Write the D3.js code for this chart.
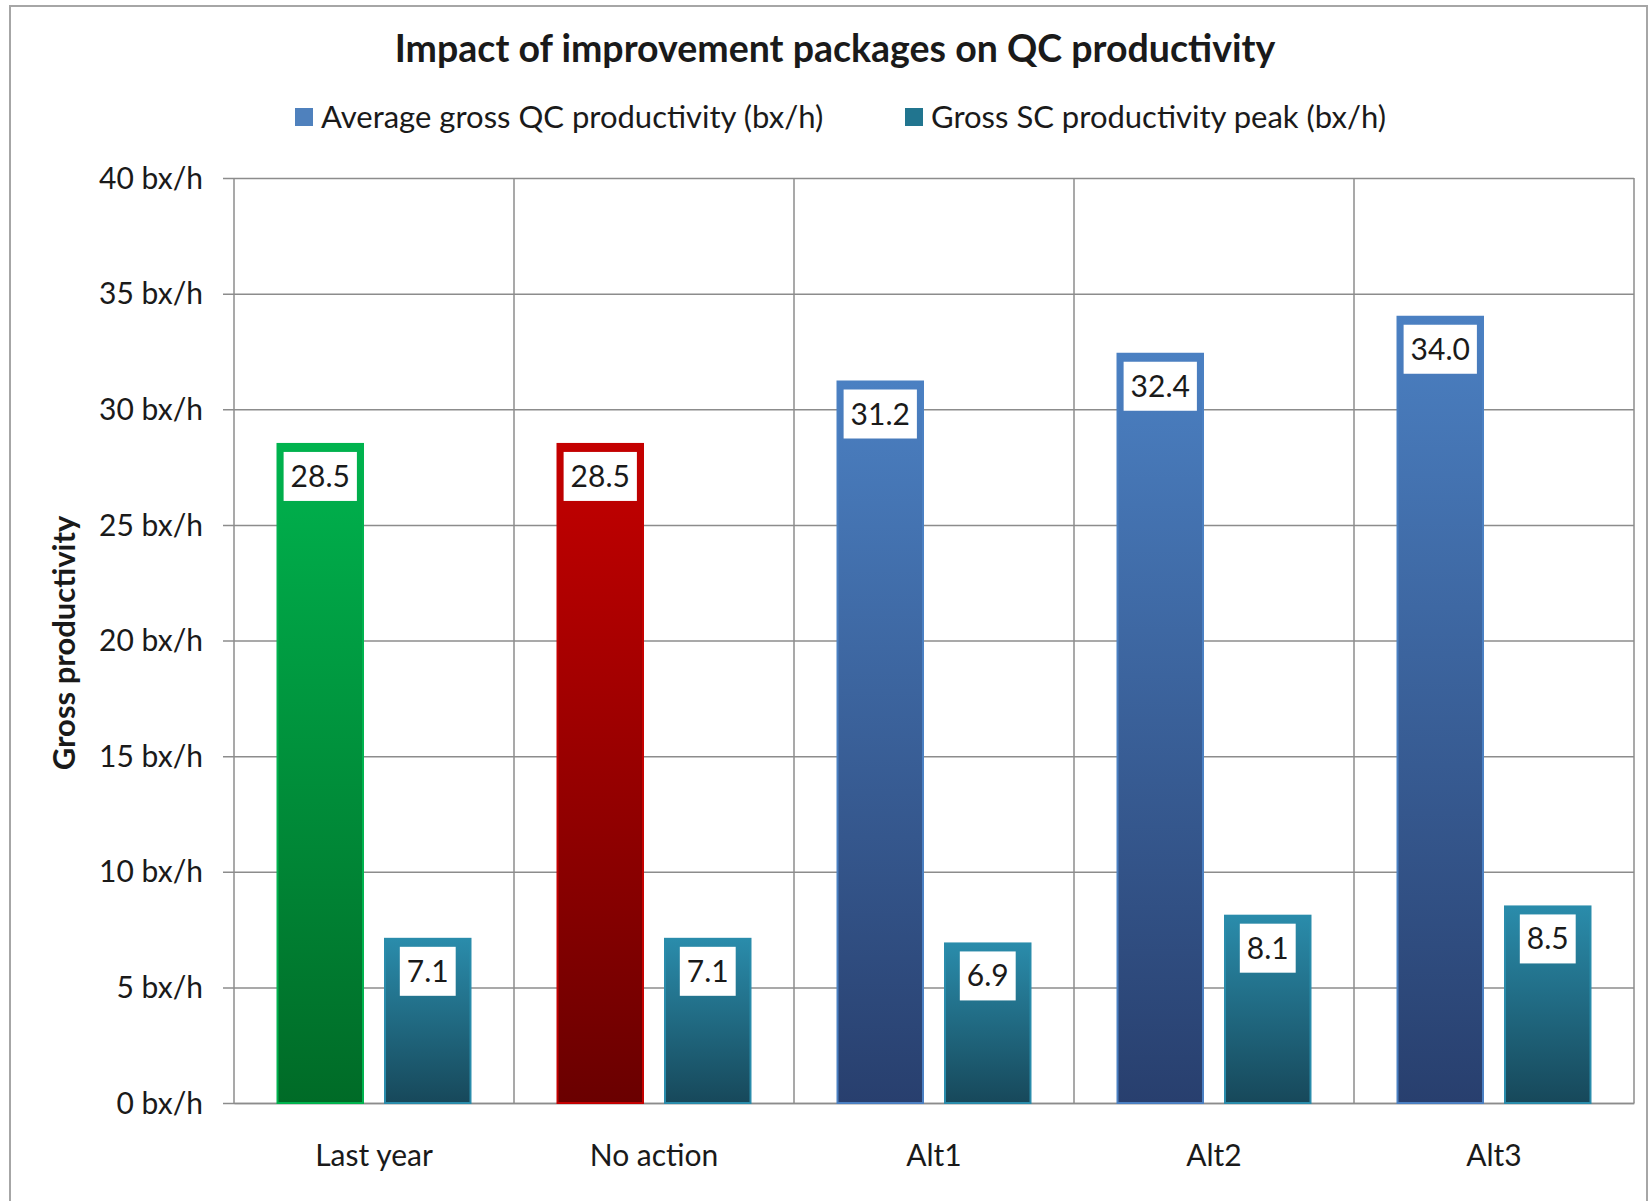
<!DOCTYPE html>
<html>
<head>
<meta charset="utf-8">
<script src="https://cdn.jsdelivr.net/npm/d3@7"></script>
<style>
  html, body { margin: 0; padding: 0; background: #fff; }
  svg { display: block; }
  text { font-family: Lato, "Open Sans", sans-serif; fill: #1a1a1a; }
</style>
</head>
<body>
<svg id="chart" width="1650" height="1201"></svg>
<script>
// Chart data
const categories = ["Last year", "No action", "Alt1", "Alt2", "Alt3"];
const avgQC = [28.5, 28.5, 31.2, 32.4, 34.0];
const scPeak = [7.1, 7.1, 6.9, 8.1, 8.5];
const yTicks = [0, 5, 10, 15, 20, 25, 30, 35, 40];
const seriesNames = ["Average gross QC productivity (bx/h)", "Gross SC productivity peak (bx/h)"];
const titleText = "Impact of improvement packages on QC productivity";
const yAxisTitle = "Gross productivity";

// Per-category gradient palettes for the QC series; SC series uses teal
const qcPalette = ["green", "red", "blue", "blue", "blue"];
const gradients = {
  green: ["#00b34e", "#006b27"],
  red:   ["#c40000", "#6a0000"],
  blue:  ["#4b80c2", "#283f6e"],
  teal:  ["#2a8cab", "#17485a"]
};

const svg = d3.select("#chart");
const plot = { left: 234, right: 1634, top: 178, bottom: 1103 };

// Outer chart frame
svg.append("rect")
  .attr("x", 10).attr("y", 6)
  .attr("width", 1637).attr("height", 1200)
  .attr("fill", "#fff").attr("stroke", "#a6a6a6").attr("stroke-width", 2);

// Gradient definitions
const defs = svg.append("defs");
Object.entries(gradients).forEach(([key, [c0, c1]]) => {
  const g = defs.append("linearGradient")
    .attr("id", "grad-" + key)
    .attr("x1", 0).attr("y1", 0).attr("x2", 0).attr("y2", 1);
  g.append("stop").attr("offset", "0%").attr("stop-color", c0);
  g.append("stop").attr("offset", "100%").attr("stop-color", c1);
});

// Scales
const x = d3.scaleBand().domain(categories).range([plot.left, plot.right]).padding(0);
const sub = d3.scaleBand().domain([0, 1]).range([0, x.bandwidth()])
  .paddingInner(0.2047).paddingOuter(0.4047);
const y = d3.scaleLinear().domain([0, 40]).range([plot.bottom, plot.top]);

// Horizontal gridlines + y axis
const yAxis = d3.axisLeft(y)
  .tickValues(yTicks)
  .tickSize(plot.right - plot.left + 11)
  .tickFormat(d => d + " bx/h");
const gy = svg.append("g")
  .attr("transform", `translate(${plot.right},0)`)
  .call(yAxis);
gy.select(".domain").remove();
gy.selectAll(".tick line").attr("stroke", "#8c8c8c").attr("stroke-width", 1.5);
gy.selectAll(".tick text")
  .attr("x", -(plot.right - plot.left) - 31)
  .attr("dy", "0.34em")
  .style("font-size", "30px")
  .style("fill", "#1a1a1a");

// Vertical gridlines at category boundaries
const boundaries = categories.map(c => x(c)).concat([plot.right]);
svg.append("g").selectAll("line").data(boundaries).join("line")
  .attr("x1", d => d).attr("x2", d => d)
  .attr("y1", plot.top).attr("y2", plot.bottom)
  .attr("stroke", "#8c8c8c").attr("stroke-width", 1.5);

// X axis
const xAxis = d3.axisBottom(x).tickSize(0).tickPadding(42);
const gx = svg.append("g")
  .attr("transform", `translate(0,${plot.bottom})`)
  .call(xAxis);
gx.select(".domain").attr("stroke", "#8c8c8c").attr("stroke-width", 1.5);
gx.selectAll(".tick text").style("font-size", "30px").style("fill", "#1a1a1a");

// Bars
const rows = categories.map((c, i) => ({
  cat: c,
  vals: [
    { s: 0, v: avgQC[i], pal: qcPalette[i] },
    { s: 1, v: scPeak[i], pal: "teal" }
  ]
}));

const groups = svg.append("g").selectAll("g").data(rows).join("g")
  .attr("transform", d => `translate(${x(d.cat)},0)`);

groups.selectAll("rect.bar").data(d => d.vals).join("rect")
  .attr("class", "bar")
  .attr("x", d => sub(d.s))
  .attr("width", sub.bandwidth())
  .attr("y", d => y(d.v))
  .attr("height", d => y(0) - y(d.v))
  .attr("fill", d => `url(#grad-${d.pal})`)
  .attr("stroke", d => gradients[d.pal][0])
  .attr("stroke-width", 2);

// Data labels in white boxes just inside the bar tops
const labels = groups.selectAll("g.lbl").data(d => d.vals).join("g")
  .attr("class", "lbl")
  .attr("transform", d => `translate(${sub(d.s) + sub.bandwidth() / 2},${y(d.v) + 8})`);
labels.append("rect").attr("fill", "#fff");
labels.append("text")
  .attr("text-anchor", "middle")
  .attr("y", 35)
  .style("font-size", "30px")
  .text(d => d.v.toFixed(1));
labels.each(function() {
  const g = d3.select(this);
  const w = g.select("text").node().getComputedTextLength() + 14;
  g.select("rect").attr("x", -w / 2).attr("y", 0).attr("width", w).attr("height", 49);
});

// Title
svg.append("text")
  .attr("x", 835).attr("y", 62)
  .attr("text-anchor", "middle")
  .style("font-size", "37.5px").style("font-weight", "bold")
  .text(titleText);

// Legend
const legendItems = [
  { name: seriesNames[0], color: "#4f81bd", x: 295 },
  { name: seriesNames[1], color: "#21758f", x: 905 }
];
const lg = svg.append("g").selectAll("g").data(legendItems).join("g")
  .attr("transform", d => `translate(${d.x},108)`);
lg.append("rect").attr("width", 18).attr("height", 18).attr("fill", d => d.color);
lg.append("text").attr("x", 26).attr("y", 20)
  .style("font-size", "31px")
  .text(d => d.name);

// Y axis title
svg.append("text")
  .attr("transform", "translate(75,643) rotate(-90)")
  .attr("text-anchor", "middle")
  .style("font-size", "31px").style("font-weight", "bold")
  .text(yAxisTitle);
</script>
</body>
</html>
